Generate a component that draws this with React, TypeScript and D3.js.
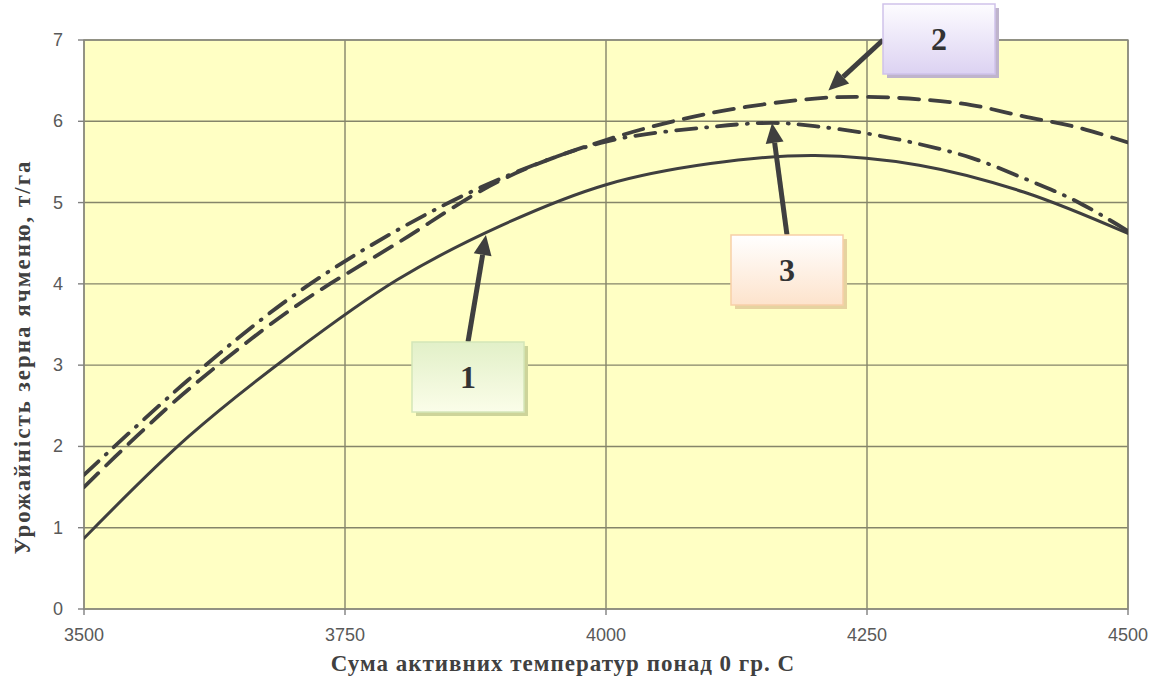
import React from "react";
import * as d3 from "d3";

const temps = [3500, 3600, 3700, 3800, 3900, 4000, 4100, 4200, 4300, 4400, 4500];
const series1 = [0.87, 2.12, 3.15, 4.05, 4.72, 5.22, 5.48, 5.58, 5.46, 5.13, 4.62];

const temps2 = [3500, 3550, 3600, 3700, 3800, 3900, 4000, 4100, 4200, 4250, 4300, 4350, 4400, 4450, 4500];
const series2 = [1.5, 2.12, 2.7, 3.7, 4.5, 5.28, 5.77, 6.1, 6.28, 6.3, 6.27, 6.2, 6.06, 5.93, 5.74];

const temps3 = [3500, 3600, 3700, 3800, 3900, 4000, 4100, 4160, 4200, 4250, 4300, 4350, 4400, 4450, 4500];
const series3 = [1.65, 2.82, 3.85, 4.66, 5.3, 5.75, 5.93, 5.98, 5.94, 5.85, 5.72, 5.55, 5.3, 5.02, 4.65];

const xTicks = [3500, 3750, 4000, 4250, 4500];
const yTicks = [0, 1, 2, 3, 4, 5, 6, 7];

const labels = [
  { id: "1", box: [412, 342], tipX: 3885, tipY: 4.6, fill: ["#e2f0c8", "#fbfde9"], stroke: "#d4e6b8", shadow: "#cdd49a" },
  { id: "2", box: [883, 4], tipX: 4213, tipY: 6.38, fill: ["#fdfcff", "#dcd2f2"], stroke: "#cfc2ea", shadow: "#bfb4cc" },
  { id: "3", box: [731, 235], tipX: 4159, tipY: 5.98, fill: ["#ffffff", "#fde3cc"], stroke: "#f7cfa8", shadow: "#e6d3a0" },
];

const W = 1160;
const H = 677;
const L = 84, R = 1128, T = 40, B = 609;

export default function App() {
  const x = d3.scaleLinear().domain([3500, 4500]).range([L, R]);
  const y = d3.scaleLinear().domain([0, 7]).range([B, T]);
  const line = d3
    .line<[number, number]>()
    .x((d) => x(d[0]))
    .y((d) => y(d[1]))
    .curve(d3.curveCatmullRom.alpha(0.5));
  const p1 = line(temps.map((t, i) => [t, series1[i]]))!;
  const p2 = line(temps2.map((t, i) => [t, series2[i]]))!;
  const p3 = line(temps3.map((t, i) => [t, series3[i]]))!;
  const tickFont = "'Liberation Sans', Arial, sans-serif";
  const serif = "'Liberation Serif', 'Times New Roman', serif";
  const bw = 112, bh = 70;

  return (
    <svg width={W} height={H} style={{ position: "absolute", left: 0, top: 0, background: "#fff" }}>
      <defs>
        {labels.map((l) => (
          <linearGradient key={l.id} id={"g" + l.id} x1="0" y1="0" x2="0" y2="1">
            <stop offset="0%" stopColor={l.fill[0]} />
            <stop offset="100%" stopColor={l.fill[1]} />
          </linearGradient>
        ))}
        <clipPath id="plotClip">
          <rect x={L} y={T} width={R - L} height={B - T} />
        </clipPath>
      </defs>
      <rect x={L} y={T} width={R - L} height={B - T} fill="#ffffc4" />
      {yTicks.map((t) => (
        <line key={"gy" + t} x1={L} x2={R} y1={y(t)} y2={y(t)} stroke="#85856a" strokeWidth={1.4} />
      ))}
      {xTicks.map((t) => (
        <line key={"gx" + t} x1={x(t)} x2={x(t)} y1={T} y2={B} stroke="#85856a" strokeWidth={1.4} />
      ))}
      <rect x={L} y={T} width={R - L} height={B - T} fill="none" stroke="#8a8a80" strokeWidth={1.4} />
      {yTicks.map((t) => (
        <g key={"ty" + t}>
          <line x1={L - 6} x2={L} y1={y(t)} y2={y(t)} stroke="#808080" strokeWidth={1.4} />
          <text x={L - 21} y={y(t) + 6} textAnchor="end" fontFamily={tickFont} fontSize={18} fill="#595959">
            {t}
          </text>
        </g>
      ))}
      {xTicks.map((t) => (
        <g key={"tx" + t}>
          <line x1={x(t)} x2={x(t)} y1={B} y2={B + 6} stroke="#808080" strokeWidth={1.4} />
          <text x={x(t)} y={B + 32} textAnchor="middle" fontFamily={tickFont} fontSize={18} fill="#595959">
            {t}
          </text>
        </g>
      ))}
      <g clipPath="url(#plotClip)" fill="none" stroke="#3f3f3f" strokeLinecap="round">
        <path d={p1} strokeWidth={3} />
        <path d={p2} strokeWidth={3.8} strokeDasharray="20 11" />
        <path d={p3} strokeWidth={3.8} strokeDasharray="20 10 1 10" />
      </g>
      {labels.map((l) => {
        const [bx, by] = l.box;
        const cx = bx + bw / 2;
        const cy = by + bh / 2;
        let sx = cx, sy = by;
        if (l.id === "2") { sx = bx; sy = by + 36; }
        const tx = x(l.tipX), ty = y(l.tipY);
        const ang = Math.atan2(ty - sy, tx - sx);
        const hl = 20, hw = 9;
        const bxp = tx - hl * Math.cos(ang), byp = ty - hl * Math.sin(ang);
        const nx = -Math.sin(ang), ny = Math.cos(ang);
        const head = `M${tx},${ty} L${bxp + nx * hw},${byp + ny * hw} L${bxp - nx * hw},${byp - ny * hw} Z`;
        return (
          <g key={l.id}>
            <line x1={sx} y1={sy} x2={bxp} y2={byp} stroke="#3f3f3f" strokeWidth={5} />
            <path d={head} fill="#3f3f3f" />
            <rect x={bx + 4} y={by + 4} width={bw} height={bh} fill={l.shadow} />
            <rect x={bx} y={by} width={bw} height={bh} fill={`url(#g${l.id})`} stroke={l.stroke} strokeWidth={1.5} />
            <text x={cx} y={cy + 11} textAnchor="middle" fontFamily={serif} fontWeight="bold" fontSize={32} fill="#333">
              {l.id}
            </text>
          </g>
        );
      })}
      <text
        x={563}
        y={671}
        textAnchor="middle"
        fontFamily={serif}
        fontWeight="bold"
        fontSize={23}
        letterSpacing={1}
        fill="#404040"
      >
        Сума активних температур понад 0 гр. С
      </text>
      <text
        transform={`translate(30,357) rotate(-90)`}
        textAnchor="middle"
        fontFamily={serif}
        fontWeight="bold"
        fontSize={23}
        letterSpacing={2}
        fill="#404040"
      >
        Урожайність зерна ячменю, т/га
      </text>
    </svg>
  );
}
